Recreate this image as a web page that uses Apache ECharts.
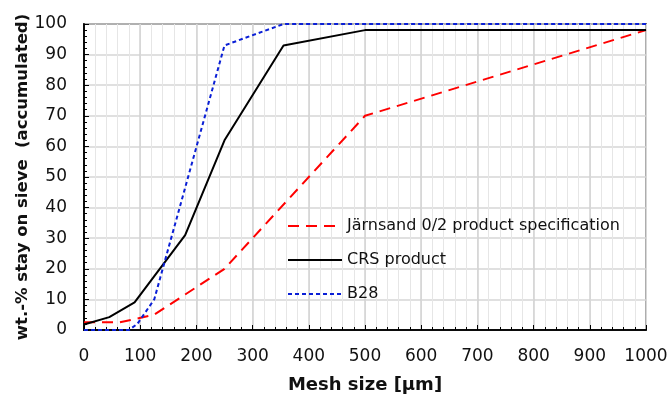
<!DOCTYPE html>
<html>
<head>
<meta charset="utf-8">
<script src="https://cdn.jsdelivr.net/npm/echarts@6/dist/echarts.min.js"></script>
<style>
  html, body { margin: 0; padding: 0; background: #fff; }
  #chart { width: 671px; height: 399px; }
</style>
</head>
<body>
<div id="chart"></div>
<script>
// sieve curves
const specMesh = [0, 63, 90, 125, 250, 500, 1000];
const specVal = [2.5, 2.5, 3.5, 5, 20, 70, 98];

const crsMesh = [0, 45, 90, 180, 250, 355, 500, 1000];
const crsVal = [1.8, 4.2, 9, 31, 62, 93, 98, 98];

const b28Mesh = [0, 80, 95, 125, 250, 355, 1000];
const b28Val = [0, 0, 2, 10, 93, 100, 100];

const seriesNames = ["Järnsand 0/2 product specification", "CRS product", "B28"];

const pairs = (xs, ys) => xs.map((x, i) => [x, ys[i]]);

const font = "DejaVu Sans";
const myChart = echarts.init(document.getElementById("chart"));

// fine axes carry the small ticks / light grid, main axes the labels
const fineX = {
  type: "value",
  min: 0,
  max: 1000,
  interval: 20,
  position: "bottom",
  axisLine: { show: true, lineStyle: { color: "#000", width: 1.5 } },
  axisTick: { show: true, inside: true, length: 3, lineStyle: { color: "#000" } },
  splitLine: { show: true, lineStyle: { color: "#e6e6e6", width: 1 } },
  axisLabel: { show: false },
};

const mainX = {
  type: "value",
  min: 0,
  max: 1000,
  interval: 100,
  position: "bottom",
  name: "Mesh size [µm]",
  nameLocation: "middle",
  nameGap: 46,
  nameTextStyle: {
    fontFamily: font,
    fontSize: 18,
    fontWeight: "bold",
    color: "#111",
  },
  axisLine: { show: true, lineStyle: { color: "#000", width: 1.5 } },
  axisTick: { show: true, inside: true, length: 5, lineStyle: { color: "#000" } },
  splitLine: { show: true, lineStyle: { color: "#d2d2d2", width: 1.5 } },
  axisLabel: {
    fontFamily: font,
    fontSize: 17,
    color: "#111",
    margin: 18,
    formatter: (v) => String(v),
  },
};

const fineY = {
  type: "value",
  min: 0,
  max: 100,
  interval: 2,
  position: "left",
  axisLine: { show: true, lineStyle: { color: "#000", width: 1.5 } },
  axisTick: { show: true, inside: true, length: 3, lineStyle: { color: "#000" } },
  splitLine: { show: false },
  axisLabel: { show: false },
};

const mainY = {
  type: "value",
  min: 0,
  max: 100,
  interval: 10,
  position: "left",
  name: "wt.-% stay on sieve  (accumulated)",
  nameLocation: "middle",
  nameGap: 53,
  nameMoveOverlap: false,
  nameTextStyle: {
    fontFamily: font,
    fontSize: 16.5,
    fontWeight: "bold",
    color: "#111",
  },
  axisLine: { show: true, lineStyle: { color: "#000", width: 1.5 } },
  axisTick: { show: true, inside: true, length: 5, lineStyle: { color: "#000" } },
  splitLine: { show: true, lineStyle: { color: "#d6d6d6", width: 1.5 } },
  axisLabel: {
    fontFamily: font,
    fontSize: 17,
    color: "#111",
    margin: 17,
  },
};

myChart.setOption({
  animation: false,
  grid: {
    left: 84,
    right: 25,
    top: 24,
    bottom: 67,
    show: true,
    borderColor: "#000",
    borderWidth: 1.5,
  },
  legend: {
    orient: "vertical",
    left: 282,
    top: 213,
    itemWidth: 54,
    itemHeight: 16,
    itemGap: 18,
    data: seriesNames,
    itemStyle: { opacity: 0 },
    textStyle: {
      fontFamily: font,
      fontSize: 16,
      color: "#111",
      lineHeight: 16,
    },
  },
  xAxis: [fineX, mainX],
  yAxis: [fineY, mainY],
  series: [
    {
      name: seriesNames[0],
      type: "line",
      xAxisIndex: 1,
      yAxisIndex: 1,
      data: pairs(specMesh, specVal),
      symbol: "none",
      z: 3,
      lineStyle: { color: "#ff0000", width: 2, type: [11, 7] },
      itemStyle: { color: "#ff0000" },
    },
    {
      name: seriesNames[1],
      type: "line",
      xAxisIndex: 1,
      yAxisIndex: 1,
      data: pairs(crsMesh, crsVal),
      symbol: "none",
      z: 4,
      lineStyle: { color: "#000000", width: 2 },
      itemStyle: { color: "#000000" },
    },
    {
      name: seriesNames[2],
      type: "line",
      xAxisIndex: 1,
      yAxisIndex: 1,
      data: pairs(b28Mesh, b28Val),
      symbol: "none",
      z: 5,
      lineStyle: { color: "#0a1fd6", width: 2, type: [4, 3] },
      itemStyle: { color: "#0a1fd6" },
    },
  ],
});
</script>
</body>
</html>
